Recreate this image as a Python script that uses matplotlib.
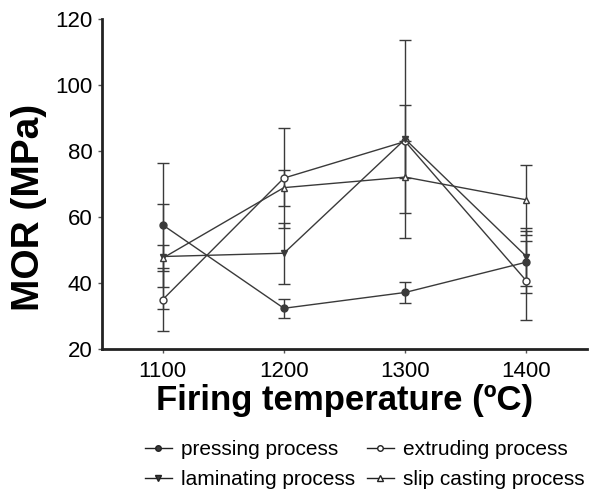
import numpy as np
import matplotlib
matplotlib.use("Agg")
import matplotlib.pyplot as plt
from matplotlib.lines import Line2D

plt.rcParams['font.family'] = ['Liberation Sans', 'DejaVu Sans']

temps = [1100, 1200, 1300, 1400]

pressing = [57.6, 32.3, 37.1, 46.3]
pressing_err = [18.7, 2.9, 3.3, 9.5]

extruding = [34.9, 71.8, 82.9, 40.6]
extruding_err = [9.6, 15.1, 11.0, 12.0]

laminating = [48.0, 49.0, 83.6, 48.0]
laminating_err = [15.8, 9.3, 30.0, 8.8]

slip = [47.5, 68.9, 72.1, 65.2]
slip_err = [4.0, 5.5, 11.0, 10.6]

names = ['pressing process', 'extruding process', 'laminating process', 'slip casting process']

fig = plt.figure(figsize=(5.93, 4.92), dpi=100)
ax = fig.add_axes([0.172, 0.291, 0.818, 0.67])

col = '#3a3a3a'
common = dict(color=col, ecolor=col, lw=1.0, elinewidth=1.0, capsize=4.5, capthick=1.0, ms=5)

series = [(pressing, pressing_err, 'o', col),
          (extruding, extruding_err, 'o', 'white'),
          (laminating, laminating_err, 'v', col),
          (slip, slip_err, '^', 'white')]

handles = []
for (vals, err, m, fc), name in zip(series, names):
    ax.errorbar(temps, vals, yerr=err, marker=m, mfc=fc, mec=col, **common)
    handles.append(Line2D([], [], color='#222222', lw=1.0, marker=m, mfc=fc,
                          mec='#222222', ms=5 if m != 'o' else 4, label=name))

ax.set_xlim(1050, 1450)
ax.set_ylim(20, 120)
ax.set_xticks(temps)
ax.set_yticks(range(20, 121, 20))
ax.tick_params(labelsize=16, length=3, width=1.0, color='#555555', pad=4)
ax.tick_params(axis='x', pad=6)
for s in ['top', 'right']:
    ax.spines[s].set_visible(False)
for s in ['left', 'bottom']:
    ax.spines[s].set_linewidth(2)
    ax.spines[s].set_color('#222222')

ax.set_xlabel('Firing temperature (ºC)', fontsize=25, fontweight='bold', labelpad=1)
ax.set_ylabel('MOR (MPa)', fontsize=28, fontweight='bold')
ax.yaxis.set_label_coords(-0.114, 0.43)

order = [0, 2, 1, 3]
fig.legend([handles[i] for i in order], [names[i] for i in order],
           loc='lower center', bbox_to_anchor=(0.615, -0.033), ncol=2, frameon=False,
           fontsize=15, handlelength=1.3, handletextpad=0.45, columnspacing=0.55,
           labelspacing=0.55)

fig.savefig('out.png', dpi=100)
